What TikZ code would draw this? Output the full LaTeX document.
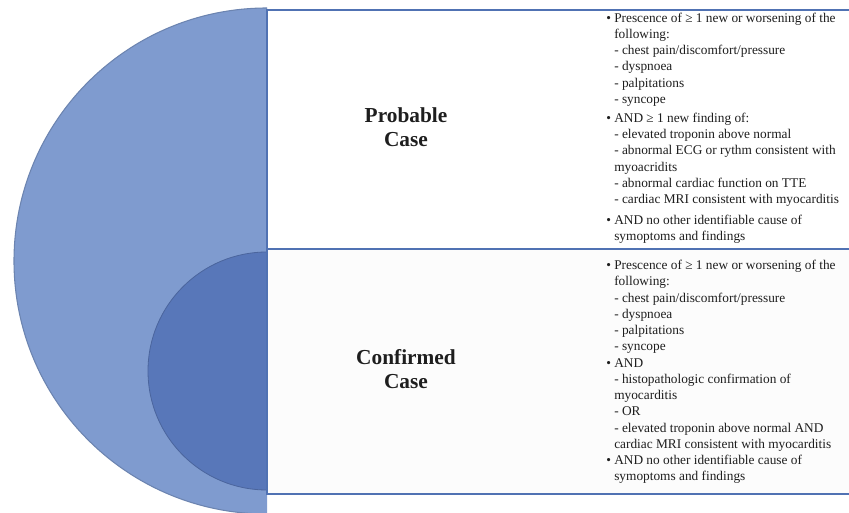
\documentclass[tikz,border=0pt]{standalone}
\usepackage{fontspec}
\setmainfont{Liberation Serif}
\usepackage{xcolor}
\usepackage{tikz}

\definecolor{outerblue}{HTML}{7F9BCF}
\definecolor{innerblue}{HTML}{5877B9}
\definecolor{edgeblue}{HTML}{5072B3}
\definecolor{inkgray}{HTML}{1E1E1E}

\newcommand{\bul}{\makebox[6pt][l]{\textbullet}}
\newcommand{\ind}{\hspace*{6pt}}

\tikzset{
  casebox/.style={draw=edgeblue, line width=1pt},
  casehead/.style={align=center, text=inkgray, font=\fontsize{16}{18}\selectfont\bfseries},
  criteria/.style={align=left, anchor=west, inner sep=0pt, text=inkgray, font=\fontsize{10}{12.2}\selectfont}
}

\begin{document}
\begin{tikzpicture}[x=0.75pt, y=0.75pt]
  \useasboundingbox (0,0) rectangle (849,513);
  \clip (0,0) rectangle (849,513);

  \fill[outerblue] (267,505) arc[start angle=90, end angle=270, radius=253] -- cycle;
  \draw[outerblue!85!black, line width=0.8pt] (267,505) arc[start angle=90, end angle=270, radius=253];

  \fill[white] (267,503) rectangle (852,264);
  \fill[black!1] (267,264) rectangle (852,19);

  \fill[innerblue] (267,261) arc[start angle=90, end angle=270, radius=119] -- cycle;
  \draw[innerblue!85!black, line width=0.6pt] (267,261) arc[start angle=90, end angle=270, radius=119];

  \draw[casebox] (852,503) -- (267,503) -- (267,19) -- (852,19);
  \draw[casebox] (267,264) -- (852,264);

  \node[casehead] (probable) at (406,386) {Probable\\Case};
  \node[casehead] (confirmed) at (406,144) {Confirmed\\Case};

  \node[criteria] (probtext) at (606,385) {%
    \bul Prescence of ≥ 1 new or worsening of the\\
    \ind following:\\
    \ind - chest pain/discomfort/pressure\\
    \ind - dyspnoea\\
    \ind - palpitations\\
    \ind - syncope\\[2pt]
    \bul AND ≥ 1 new finding of:\\
    \ind - elevated troponin above normal\\
    \ind - abnormal ECG or rythm consistent with\\
    \ind myoacridits\\
    \ind - abnormal cardiac function on TTE\\
    \ind - cardiac MRI consistent with myocarditis\\[3pt]
    \bul AND no other identifiable cause of\\
    \ind symoptoms and findings};

  \node[criteria] (conftext) at (606,141) {%
    \bul Prescence of ≥ 1 new or worsening of the\\
    \ind following:\\
    \ind - chest pain/discomfort/pressure\\
    \ind - dyspnoea\\
    \ind - palpitations\\
    \ind - syncope\\
    \bul AND\\
    \ind - histopathologic confirmation of\\
    \ind myocarditis\\
    \ind - OR\\
    \ind - elevated troponin above normal AND\\
    \ind cardiac MRI consistent with myocarditis\\
    \bul AND no other identifiable cause of\\
    \ind symoptoms and findings};
\end{tikzpicture}
\end{document}
